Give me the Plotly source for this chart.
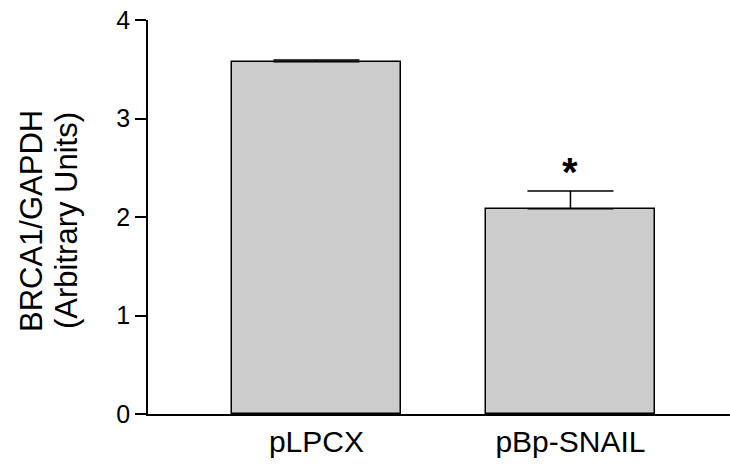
import plotly.graph_objects as go

categories = ["pLPCX", "pBp-SNAIL"]
values = [3.575, 2.085]
errors = [0.02, 0.18]
y_ticks = [0, 1, 2, 3, 4]
sig_marks = ["", "*"]
y_title_lines = ["BRCA1/GAPDH", "(Arbitrary Units)"]

x_pos = list(range(len(categories)))

fig = go.Figure()
fig.add_trace(go.Bar(
    x=x_pos, y=values, width=0.665,
    marker=dict(color="#cccccc", line=dict(color="black", width=1.5)),
    error_y=dict(type="data", array=errors, arrayminus=[0] * len(errors), symmetric=False,
                 color="black", thickness=1.5, width=43),
    showlegend=False,
))

for xi, v, e, s in zip(x_pos, values, errors, sig_marks):
    if s:
        fig.add_annotation(x=xi, y=v + e, text="<b>" + s + "</b>", showarrow=False,
                           yanchor="bottom", yshift=-5,
                           font=dict(family="Liberation Sans", size=40, color="black"))

for line, shift in zip(y_title_lines, [-117, -82]):
    fig.add_annotation(x=0, y=0.5, xref="paper", yref="paper", xanchor="center", yanchor="middle",
                       xshift=shift, yshift=-4, text=line, textangle=-90, showarrow=False,
                       font=dict(family="Liberation Sans", size=31, color="black"))

fig.update_layout(
    width=730, height=466, autosize=False,
    margin=dict(l=148, r=0, t=20, b=52, autoexpand=False),
    plot_bgcolor="white", paper_bgcolor="white",
    font=dict(family="Liberation Sans", color="black"),
    bargap=0,
)
fig.update_xaxes(
    range=[-0.663, 1.628], tickvals=x_pos, ticktext=categories, automargin=False,
    showline=True, linecolor="black", linewidth=1.5, ticks="",
    showgrid=False, zeroline=False, tickfont=dict(size=30),
)
fig.update_yaxes(
    range=[0, 4], tickvals=y_ticks, showline=True, linecolor="black", linewidth=1.5,
    ticks="outside", ticklen=11, tickwidth=1.5, tickcolor="black", automargin=False,
    showgrid=False, zeroline=False, tickfont=dict(size=25),
)

fig.write_html("out.html", config={"displayModeBar": False},
               post_script="document.body.style.margin='0';")
